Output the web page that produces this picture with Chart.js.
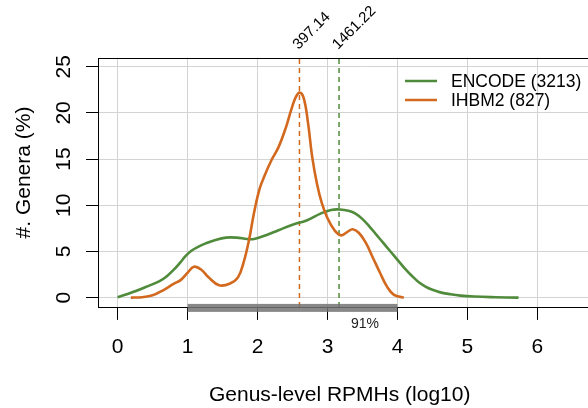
<!DOCTYPE html>
<html>
<head>
<meta charset="utf-8">
<script src="https://cdn.jsdelivr.net/npm/chart.js@4.4.1/dist/chart.umd.min.js"></script>
<style>
  html, body { margin: 0; padding: 0; background: #fff; overflow: hidden; }
  #wrap { width: 627px; height: 408px; }
</style>
</head>
<body>
<div id="wrap"><canvas id="densityChart" width="627" height="408"></canvas></div>
<script>
// Density of genus-level abundance, log10 RPMH
const encodeX = [0, 0.2, 0.4, 0.6, 0.7, 0.8, 0.9, 0.97, 1.05, 1.15, 1.25, 1.4, 1.55, 1.7, 1.85, 1.95, 2.1, 2.3, 2.5, 2.7, 2.9, 3.05, 3.18, 3.3, 3.4, 3.5, 3.6, 3.7, 3.8, 3.9, 4.0, 4.1, 4.2, 4.3, 4.4, 4.5, 4.6, 4.75, 4.9, 5.1, 5.4, 5.73];
const encodeY = [0.05, 0.55, 1.15, 1.8, 2.3, 3.0, 3.85, 4.5, 5.05, 5.5, 5.85, 6.25, 6.5, 6.5, 6.35, 6.35, 6.7, 7.3, 7.9, 8.35, 9.1, 9.5, 9.55, 9.4, 9.1, 8.5, 7.7, 6.8, 5.9, 5.0, 4.1, 3.2, 2.4, 1.7, 1.2, 0.85, 0.6, 0.38, 0.22, 0.12, 0.05, 0.0];

const ihbmX = [0.19, 0.35, 0.5, 0.65, 0.8, 0.9, 1.0, 1.09, 1.2, 1.3, 1.45, 1.6, 1.72, 1.8, 1.88, 1.95, 2.03, 2.1, 2.2, 2.3, 2.4, 2.48, 2.54, 2.6, 2.66, 2.72, 2.78, 2.85, 2.92, 3.0, 3.1, 3.19, 3.28, 3.36, 3.45, 3.55, 3.65, 3.75, 3.85, 3.95, 4.09];
const ihbmY = [0, 0.05, 0.25, 0.8, 1.5, 1.9, 2.7, 3.35, 3.0, 2.2, 1.35, 1.5, 2.2, 3.8, 6.3, 9.2, 11.8, 13.2, 14.9, 16.3, 18.3, 20.3, 21.6, 22.2, 21.6, 19.0, 15.3, 12.3, 10.2, 8.6, 7.3, 6.75, 7.1, 7.4, 7.0, 5.9, 4.3, 2.7, 1.2, 0.3, 0];

const seriesNames = ['ENCODE (3213)', 'IHBM2 (827)'];
const seriesColors = ['#4f8b3b', '#d2691e'];

// medians in RPMH, same order as the series
const medianLabels = ['1461.22', '397.14'];

const xTicks = [0, 1, 2, 3, 4, 5, 6, 7];
const yTicks = [0, 5, 10, 15, 20, 25];

// range shared by both sets, drawn as a bar on the x axis
const rangeBar = [1, 4];
const rangeLabel = '91%';

const FONT = '"Liberation Sans", Arial, Helvetica, sans-serif';

const toPoints = (xs, ys) => xs.map((v, i) => ({ x: v, y: ys[i] }));

const decorations = {
  id: 'decorations',
  beforeDatasetsDraw(chart) {
    const { ctx, chartArea: a } = chart;
    ctx.save();
    ctx.strokeStyle = '#000';
    ctx.lineWidth = 1;
    ctx.strokeRect(Math.round(a.left) + 0.5, Math.round(a.top) + 0.5, a.right - a.left, Math.round(a.bottom - a.top));
    ctx.restore();
  },
  afterDatasetsDraw(chart) {
    const { ctx, chartArea: a, scales: { x, y } } = chart;
    ctx.save();

    // range bar
    const b0 = x.getPixelForValue(rangeBar[0]);
    const b1 = x.getPixelForValue(rangeBar[1]);
    ctx.fillStyle = 'rgba(115,115,115,0.85)';
    ctx.fillRect(b0, a.bottom - 3, b1 - b0, 8);
    ctx.fillStyle = '#222';
    ctx.font = '14px ' + FONT;
    ctx.textAlign = 'center';
    ctx.textBaseline = 'alphabetic';
    ctx.fillText(rangeLabel, 365, 328);

    // tick labels
    ctx.fillStyle = '#000';
    ctx.font = '21px ' + FONT;
    xTicks.forEach(v => {
      ctx.fillText(String(v), x.getPixelForValue(v), 353);
    });
    yTicks.forEach(v => {
      ctx.save();
      ctx.translate(70, y.getPixelForValue(v));
      ctx.rotate(-Math.PI / 2);
      ctx.fillText(String(v), 0, 0);
      ctx.restore();
    });

    // axis titles
    ctx.textAlign = 'left';
    ctx.fillText('Genus-level RPMHs (log10)', 209, 401);
    ctx.save();
    ctx.translate(29.5, 172.5);
    ctx.rotate(-Math.PI / 2);
    ctx.textAlign = 'center';
    ctx.fillText('#. Genera (%)', 0, 0);
    ctx.restore();

    // median values above the box
    ctx.font = '15px ' + FONT;
    medianLabels.forEach(lab => {
      ctx.save();
      ctx.translate(x.getPixelForValue(Math.log10(parseFloat(lab))) - 1, 50);
      ctx.rotate(-Math.PI / 4);
      ctx.textAlign = 'left';
      ctx.fillText(lab, 0, 0);
      ctx.restore();
    });

    // legend
    ctx.font = '17.5px ' + FONT;
    ctx.textBaseline = 'middle';
    ctx.textAlign = 'left';
    seriesNames.forEach((name, i) => {
      const ly = 81 + i * 19;
      ctx.strokeStyle = seriesColors[i];
      ctx.lineWidth = 2.5;
      ctx.beginPath();
      ctx.moveTo(405, ly);
      ctx.lineTo(437, ly);
      ctx.stroke();
      ctx.fillStyle = '#000';
      ctx.fillText(name, 451, ly + 1);
    });
    ctx.restore();
  }
};

const medianSets = medianLabels.map((lab, i) => {
  const mx = Math.log10(parseFloat(lab));
  return {
    data: [{ x: mx, y: -1 }, { x: mx, y: 26 }],
    borderColor: seriesColors[i],
    borderWidth: 1.5,
    borderDash: [5, 4],
    pointRadius: 0,
    tension: 0,
    order: 3
  };
});

new Chart(document.getElementById('densityChart'), {
  type: 'line',
  data: {
    datasets: [
      {
        label: seriesNames[1],
        data: toPoints(ihbmX, ihbmY),
        borderColor: seriesColors[1],
        borderWidth: 2.6,
        pointRadius: 0,
        tension: 0.4,
        order: 1
      },
      {
        label: seriesNames[0],
        data: toPoints(encodeX, encodeY),
        borderColor: seriesColors[0],
        borderWidth: 2.6,
        pointRadius: 0,
        tension: 0.4,
        order: 2
      },
      ...medianSets
    ]
  },
  options: {
    responsive: false,
    animation: false,
    events: [],
    layout: { padding: { top: 57.5, left: 0, right: 0, bottom: 0 } },
    plugins: { legend: { display: false }, tooltip: { enabled: false } },
    scales: {
      x: {
        type: 'linear',
        min: -0.28,
        max: 7.28,
        afterBuildTicks: s => { s.ticks = xTicks.map(v => ({ value: v })); },
        afterFit: s => { s.height = 408 - 306.9; },
        grid: { color: '#d3d3d3', lineWidth: 1, tickColor: '#000', tickLength: 13, tickWidth: 1 },
        border: { display: false },
        ticks: { display: false }
      },
      y: {
        min: -1,
        max: 26,
        afterBuildTicks: s => { s.ticks = yTicks.map(v => ({ value: v })); },
        afterFit: s => { s.width = 98; },
        grid: { color: '#d3d3d3', lineWidth: 1, tickColor: '#000', tickLength: 12, tickWidth: 1 },
        border: { display: false },
        ticks: { display: false }
      }
    }
  },
  plugins: [decorations]
});
</script>
</body>
</html>
